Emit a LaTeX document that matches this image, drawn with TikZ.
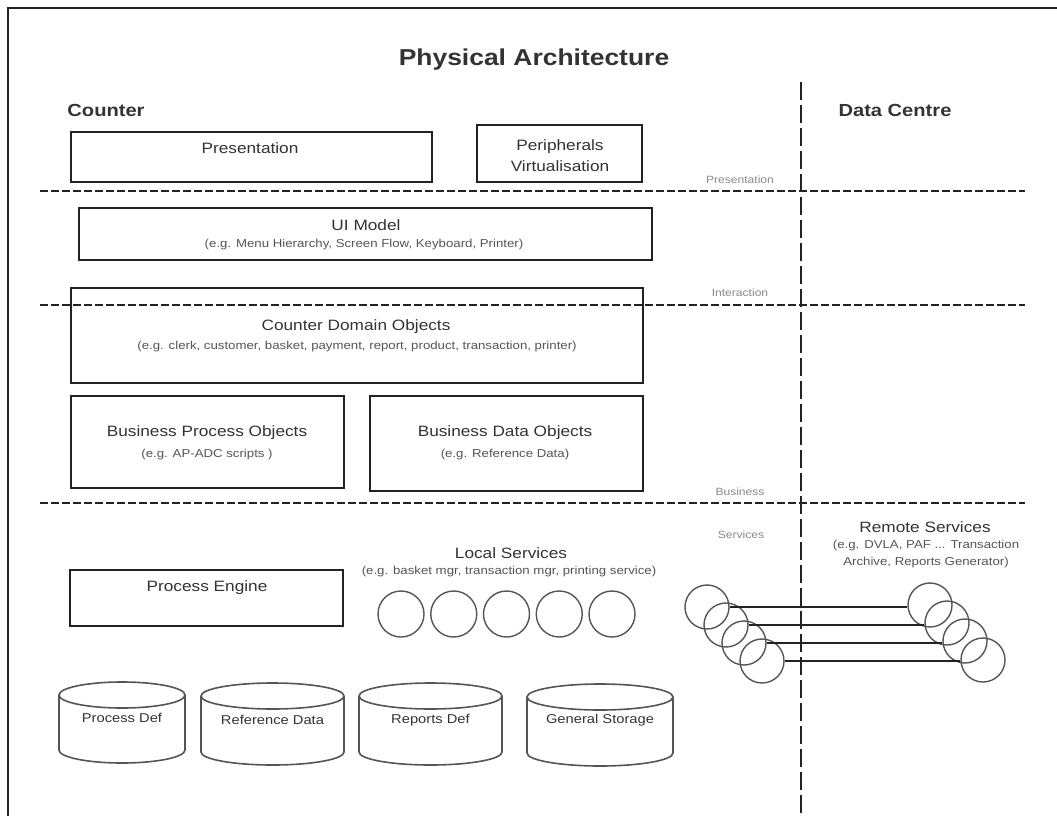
\documentclass[tikz,border=0pt]{standalone}
\usepackage{fontspec}
\setmainfont{Liberation Sans}[FakeStretch=1.15]
\definecolor{ink}{HTML}{222222}
\definecolor{txt}{HTML}{333333}
\definecolor{subc}{HTML}{555555}
\definecolor{faint}{HTML}{8A8A8A}
\definecolor{circc}{HTML}{555555}
\newcommand{\mycyl}[7]{% name, x1, x2, top, bottom, texty, text
  \pgfmathsetmacro\cylcx{(#2+#3)/2}
  \pgfmathsetmacro\cylrx{(#3-#2)/2}
  \draw[cylline] (\cylcx,#4+13) ellipse[x radius=\cylrx, y radius=13];
  \draw[cylline] (#2,#4+13) -- (#2,#5-13) arc[start angle=180, end angle=0, x radius=\cylrx, y radius=13] -- (#3,#4+13);
  \node[cyltxt] (#1) at (\cylcx,#6) {#7};
}
\begin{document}
\begin{tikzpicture}[x=1pt,y=-1pt,
  box/.style={draw=ink, line width=1.8pt, inner sep=0pt, fill=none},
  title/.style={font=\fontsize{23}{27}\selectfont\bfseries, text=txt, inner sep=0pt},
  head/.style={font=\fontsize{17.5}{21}\selectfont\bfseries, text=txt, inner sep=0pt},
  main/.style={font=\fontsize{15}{21}\selectfont, text=txt, inner sep=0pt, align=center},
  subt/.style={font=\fontsize{11.5}{17}\selectfont, text=subc, inner sep=0pt, align=center},
  layer/.style={font=\fontsize{10.5}{12}\selectfont, text=faint, inner sep=0pt},
  cyltxt/.style={font=\fontsize{12.8}{15}\selectfont, text=txt, inner sep=0pt},
  cylline/.style={draw=subc, line width=1.6pt},
  hsep/.style={draw=ink, line width=1.4pt, dash pattern=on 8pt off 3pt},
  vsep/.style={draw=ink, line width=1.8pt, dash pattern=on 18pt off 5pt},
  svc/.style={circle, draw=circc, line width=1.4pt, minimum size=46pt, inner sep=0pt},
  rsvc/.style={circle, draw=circc, line width=1.4pt, minimum size=44pt, inner sep=0pt},
  link/.style={draw=ink, line width=1.4pt}
]
\useasboundingbox[fill=white] (0,0) rectangle (1057,816);

% frame (top and left edges visible)
\draw[ink, line width=1.8pt] (8,816) -- (8,8) -- (1057,8);

% title and headers
\node[title] (ttl) at (534,60) {Physical Architecture};
\node[head] (hcounter) at (106,110) {Counter};
\node[head] (hdc) at (895,110) {Data Centre};

% separators
\coordinate (vtop) at (801,82);
\coordinate (vbot) at (801,816);
\draw[vsep] (vtop) -- (vbot);
\coordinate (s1a) at (40,191); \coordinate (s1b) at (1025,191);
\coordinate (s2a) at (40,305); \coordinate (s2b) at (1025,305);
\coordinate (s3a) at (40,503); \coordinate (s3b) at (1025,503);
\draw[hsep] (s1a) -- (s1b);
\draw[hsep] (s2a) -- (s2b);
\draw[hsep] (s3a) -- (s3b);

\node[layer] (lp) at (740,180) {Presentation};
\node[layer] (li) at (740,293) {Interaction};
\node[layer] (lb) at (740,492) {Business};
\node[layer] (ls) at (741,535) {Services};

% presentation layer
\node[box, minimum width=361pt, minimum height=50pt] (pres) at (251.5,157) {};
\node[main] (presT) at (250,148) {Presentation};
\node[box, minimum width=165pt, minimum height=57pt] (peri) at (559.5,153.5) {};
\node[main] (periT) at (560,156) {Peripherals\\Virtualisation};

% interaction layer
\node[box, minimum width=573pt, minimum height=52pt] (ui) at (365.5,234) {};
\node[main] (uiT) at (366,225) {UI Model};
\node[subt] (uiS) at (364,245) {(e.g. Menu Hierarchy, Screen Flow, Keyboard, Printer)};

% business layer
\node[box, minimum width=572pt, minimum height=95pt] (cdo) at (357,335.5) {};
\node[main] (cdoT) at (356,327) {Counter Domain Objects};
\node[subt] (cdoS) at (357,347) {(e.g. clerk, customer, basket, payment, report, product, transaction, printer)};

\node[box, minimum width=273pt, minimum height=92pt] (bpo) at (207.5,442) {};
\node[main] (bpoT) at (207,433) {Business Process Objects};
\node[subt] (bpoS) at (207,455) {(e.g. AP-ADC scripts )};

\node[box, minimum width=273pt, minimum height=95pt] (bdo) at (506.5,443.5) {};
\node[main] (bdoT) at (505,433) {Business Data Objects};
\node[subt] (bdoS) at (505,455) {(e.g. Reference Data)};

% services layer
\node[box, minimum width=273pt, minimum height=56pt] (pe) at (206.5,598) {};
\node[main] (peT) at (207,588) {Process Engine};

\node[main] (lsT) at (511,553) {Local Services};
\node[subt] (lsS) at (509,572) {(e.g. basket mgr, transaction mgr, printing service)};
\foreach \i in {0,...,4} {
  \node[svc] (ls\i) at ({401+52.75*\i},614) {};
}

\node[main] (rsT) at (925,527) {Remote Services};
\node[subt] (rsS) at (926,554.5) {(e.g. DVLA, PAF ... Transaction\\Archive, Reports Generator)};

\node[rsvc] (a1) at (707,607) {};
\node[rsvc] (a2) at (726,625) {};
\node[rsvc] (a3) at (744,643) {};
\node[rsvc] (a4) at (762,661) {};
\node[rsvc] (b1) at (930,605) {};
\node[rsvc] (b2) at (947,623) {};
\node[rsvc] (b3) at (965,641) {};
\node[rsvc] (b4) at (983,660) {};
\draw[link] (a1.east) -- (a1.east -| b1.west);
\draw[link] (a2.east) -- (a2.east -| b2.west);
\draw[link] (a3.east) -- (a3.east -| b3.west);
\draw[link] (a4.east) -- (a4.east -| b4.west);

% storage
\mycyl{pd}{59}{185}{682}{763}{718}{Process Def}
\mycyl{rd}{201}{344}{683}{765}{720}{Reference Data}
\mycyl{rp}{359}{502}{683}{765}{720}{Reports Def}
\mycyl{gs}{527}{673}{684}{766}{720}{General Storage}
\end{tikzpicture}
\end{document}
